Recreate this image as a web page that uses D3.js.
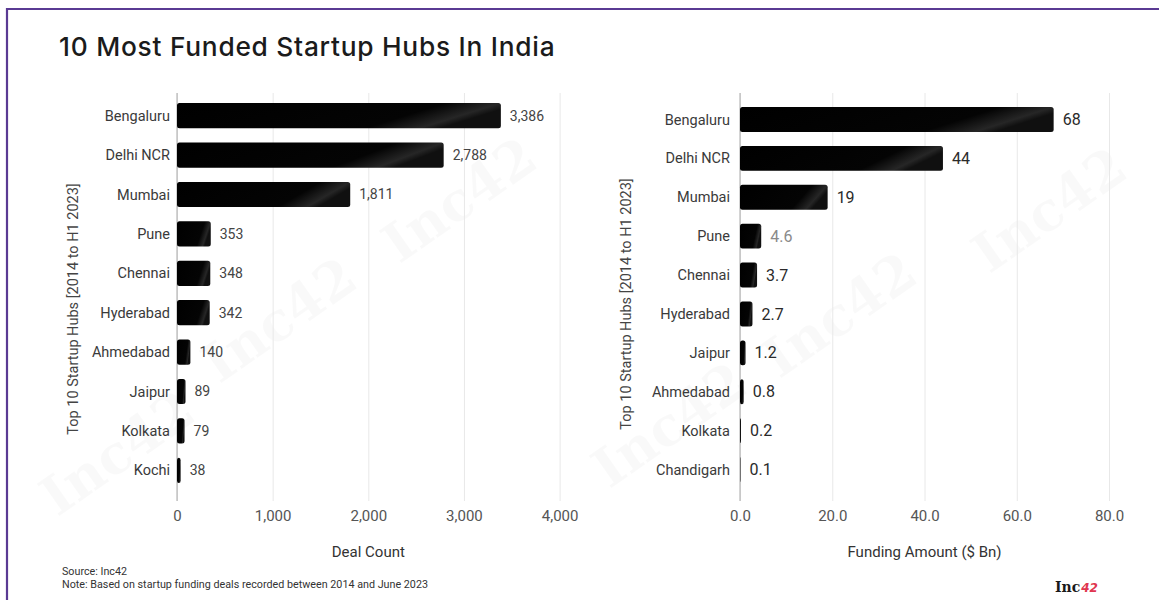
<!DOCTYPE html>
<html>
<head>
<meta charset="utf-8">
<script src="https://cdn.jsdelivr.net/npm/d3@7"></script>
<style>
  html, body { margin: 0; padding: 0; background: #ffffff; }
  svg { display: block; }
</style>
</head>
<body>
<svg id="chart" width="1159" height="607"></svg>
<script>
// Deal count by hub (2014 to H1 2023)
const dealHubs = ["Bengaluru", "Delhi NCR", "Mumbai", "Pune", "Chennai", "Hyderabad", "Ahmedabad", "Jaipur", "Kolkata", "Kochi"];
const dealCounts = [3386, 2788, 1811, 353, 348, 342, 140, 89, 79, 38];
const dealTicks = [0, 1000, 2000, 3000, 4000];

// Funding amount by hub, $ Bn
const fundHubs = ["Bengaluru", "Delhi NCR", "Mumbai", "Pune", "Chennai", "Hyderabad", "Jaipur", "Ahmedabad", "Kolkata", "Chandigarh"];
const fundAmounts = [68, 44, 19, 4.6, 3.7, 2.7, 1.2, 0.8, 0.2, 0.1];
const fundLabels = ["68", "44", "19", "4.6", "3.7", "2.7", "1.2", "0.8", "0.2", "0.1"];
const fundTicks = [0, 20, 40, 60, 80];

const titleText = "10 Most Funded Startup Hubs In India";
const yTitleText = "Top 10 Startup Hubs [2014 to H1 2023]";

const svg = d3.select("#chart");
const FONT = "Roboto, 'Liberation Sans', Arial, sans-serif";

// shaded fill for the bars: black with a soft sheen near the end
const defs = svg.append("defs");
const grad = defs.append("linearGradient").attr("id", "barFill")
  .attr("x1", 0).attr("y1", 0).attr("x2", 1).attr("y2", 0.25);
grad.append("stop").attr("offset", "0").attr("stop-color", "#000");
grad.append("stop").attr("offset", "0.78").attr("stop-color", "#040404");
grad.append("stop").attr("offset", "0.94").attr("stop-color", "#262626");
grad.append("stop").attr("offset", "1").attr("stop-color", "#101010");

// frame
svg.append("line").attr("x1", 7).attr("x2", 1159).attr("y1", 9).attr("y2", 9)
  .attr("stroke", "#5a3a93").attr("stroke-width", 2.2);
svg.append("line").attr("x1", 7).attr("x2", 7).attr("y1", 8).attr("y2", 600)
  .attr("stroke", "#5a3a93").attr("stroke-width", 2.2);

// title
svg.append("text").attr("x", 59).attr("y", 56)
  .attr("font-family", "Inter, 'Open Sans', sans-serif").attr("font-weight", 500)
  .attr("font-size", 26.3).attr("letter-spacing", 0.75)
  .attr("fill", "#1b1b1b").text(titleText);

// faint watermarks
const marks = svg.append("g").attr("fill", "#000").attr("fill-opacity", 0.022)
  .attr("font-family", "'DejaVu Serif', 'Liberation Serif', serif").attr("font-weight", 700)
  .attr("font-size", 54);
[[128, 468], [290, 335], [470, 215], [680, 440], [850, 330], [1060, 225]].forEach(([x, y]) => {
  marks.append("text").attr("transform", `translate(${x},${y}) rotate(-35)`)
    .attr("text-anchor", "middle").text("Inc42");
});

function panel(opts) {
  const g = svg.append("g");
  const x = d3.scaleLinear().domain(opts.domain).range(opts.xRange);
  const y = d3.scaleBand().domain(opts.cats).range(opts.yRange)
    .paddingInner(0.36).paddingOuter(0.18);

  // vertical gridlines
  const grid = g.append("g").attr("transform", `translate(0,${opts.gridBottom})`)
    .call(d3.axisBottom(x).tickValues(opts.ticks).tickSize(-(opts.gridBottom - opts.gridTop)).tickFormat(""));
  grid.select(".domain").remove();
  grid.selectAll("line").attr("stroke", "#e8e8e8").attr("stroke-width", 1);

  // tick labels
  const ax = g.append("g").attr("transform", `translate(0,${opts.tickY})`)
    .call(d3.axisBottom(x).tickValues(opts.ticks).tickSize(0).tickPadding(0).tickFormat(opts.fmt));
  ax.select(".domain").remove();
  ax.selectAll("text").attr("font-family", FONT).attr("font-size", 15)
    .attr("fill", "#555").attr("dy", "0.35em");

  // baseline at zero
  g.append("line").attr("x1", x(0)).attr("x2", x(0))
    .attr("y1", opts.gridTop).attr("y2", opts.gridBottom)
    .attr("stroke", "#a8a8a8").attr("stroke-width", 1);

  // bars
  g.append("g").selectAll("rect").data(opts.values).join("rect")
    .attr("x", x(0))
    .attr("y", (d, i) => y(opts.cats[i]))
    .attr("width", d => Math.max(0, x(d) - x(0)))
    .attr("height", y.bandwidth())
    .attr("rx", 2.5)
    .attr("fill", "url(#barFill)");

  // category names
  g.append("g").selectAll("text").data(opts.cats).join("text")
    .attr("x", x(0) - opts.catGap)
    .attr("y", d => y(d) + y.bandwidth() / 2)
    .attr("dy", "0.35em").attr("text-anchor", "end")
    .attr("font-family", FONT).attr("font-size", 14.5).attr("fill", "#3a3a3a")
    .text(d => d);

  // value labels
  g.append("g").selectAll("text").data(opts.values).join("text")
    .attr("x", d => x(d) + 9)
    .attr("y", (d, i) => y(opts.cats[i]) + y.bandwidth() / 2)
    .attr("dy", "0.35em")
    .attr("font-family", FONT).attr("font-size", opts.valueSize)
    .attr("fill", (d, i) => opts.valueColor(i))
    .text((d, i) => opts.valueText(d, i));

  // axis titles
  g.append("text")
    .attr("x", (opts.xRange[0] + opts.xRange[1]) / 2).attr("y", opts.xTitleY)
    .attr("text-anchor", "middle").attr("font-family", FONT).attr("font-size", 15)
    .attr("fill", "#333").text(opts.xTitle);
  g.append("text")
    .attr("transform", `translate(${opts.yTitleX},${opts.yTitleY}) rotate(-90)`)
    .attr("text-anchor", "middle").attr("font-family", FONT).attr("font-size", 14.5)
    .attr("fill", "#444").text(yTitleText);
}

panel({
  cats: dealHubs, values: dealCounts, ticks: dealTicks,
  domain: [0, 4000], xRange: [177, 559.6], yRange: [96, 490],
  gridTop: 93, gridBottom: 501, tickY: 516, catGap: 7,
  fmt: d3.format(","), valueSize: 14,
  valueColor: () => "#444", valueText: d => d3.format(",")(d),
  xTitle: "Deal Count", xTitleY: 557, yTitleX: 78, yTitleY: 309
});

panel({
  cats: fundHubs, values: fundAmounts, ticks: fundTicks,
  domain: [0, 80], xRange: [740, 1109], yRange: [100, 489],
  gridTop: 93, gridBottom: 501, tickY: 516, catGap: 10,
  fmt: d3.format(".1f"), valueSize: 16,
  valueColor: i => fundLabels[i] === "4.6" ? "#8a8a8a" : "#2a2a2a",
  valueText: (d, i) => fundLabels[i],
  xTitle: "Funding Amount ($ Bn)", xTitleY: 557, yTitleX: 631, yTitleY: 304
});

// footer notes
const foot = svg.append("g").attr("font-family", FONT).attr("font-size", 11.5).attr("fill", "#333");
foot.append("text").attr("x", 62).attr("y", 575)
  .attr("textLength", 65).attr("lengthAdjust", "spacingAndGlyphs").text("Source: Inc42");
foot.append("text").attr("x", 62).attr("y", 588)
  .attr("textLength", 366).attr("lengthAdjust", "spacingAndGlyphs")
  .text("Note: Based on startup funding deals recorded between 2014 and June 2023");

// brand mark
const logo = svg.append("text").attr("x", 1055).attr("y", 592);
logo.append("tspan").attr("font-family", "'DejaVu Serif', 'Liberation Serif', serif")
  .attr("font-weight", 700).attr("font-size", 14).attr("fill", "#1a1a1a").text("Inc");
logo.append("tspan").attr("dx", 1).attr("font-family", "'DejaVu Sans', sans-serif")
  .attr("font-style", "italic").attr("font-weight", 700).attr("font-size", 12)
  .attr("fill", "#e0364f").text("42");
</script>
</body>
</html>
